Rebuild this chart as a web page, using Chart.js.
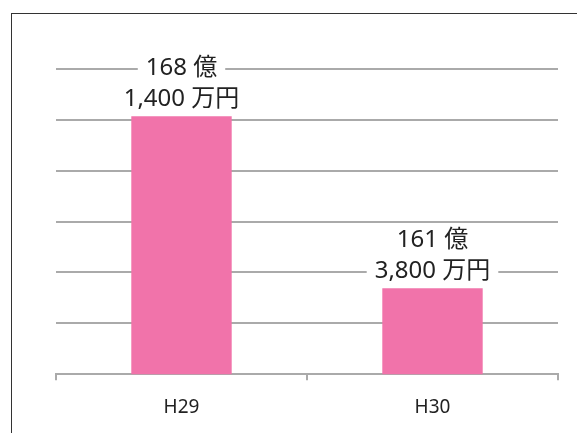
<!DOCTYPE html>
<html>
<head>
<meta charset="utf-8">
<script src="https://cdn.jsdelivr.net/npm/chart.js@4"></script>
<style>
  html, body { margin: 0; padding: 0; background: #fff; }
  #wrap { position: relative; width: 577px; height: 433px; }
  #frame { position: absolute; left: 11px; top: 13px; right: 0; bottom: 0;
           border-left: 1.5px solid #333; border-top: 1.5px solid #333; }
  canvas { position: absolute; left: 0; top: 0; }
</style>
</head>
<body>
<div id="wrap">
  <div id="frame"></div>
  <canvas id="bar-chart" width="577" height="433"></canvas>
</div>
<script>
const categories = ['H29', 'H30'];
const values = [168.14, 161.38]; // 億円
const yTicks = [158, 160, 162, 164, 166, 168, 170];

const barColor = '#f173aa';
const gridColor = '#aaaaaa';
const font = '"Noto Sans", "Noto Sans CJK JP", sans-serif';

// "168 億" / "1,400 万円"
function valueLines(v) {
    const oku = Math.floor(v);
    const man = Math.round((v - oku) * 10000);
    return [oku + ' 億', man.toLocaleString('en-US') + ' 万円'];
}

const barLabels = {
    id: 'barLabels',
    afterDatasetsDraw(chart) {
        const ctx = chart.ctx;
        const meta = chart.getDatasetMeta(0);
        ctx.save();
        ctx.font = '24px ' + font;
        ctx.textAlign = 'center';
        ctx.textBaseline = 'middle';
        meta.data.forEach((bar, i) => {
            const lines = valueLines(values[i]);
            const ys = [bar.y - 48, bar.y - 17];
            lines.forEach((txt, j) => {
                const w = ctx.measureText(txt).width;
                ctx.fillStyle = '#fff';
                ctx.fillRect(bar.x - w / 2 - 8, ys[j] - 13, w + 16, 26);
                ctx.fillStyle = '#222';
                ctx.fillText(txt, bar.x, ys[j]);
            });
        });
        ctx.restore();
    }
};

const ctx = document.getElementById('bar-chart').getContext('2d');

const myBarChart = new Chart(ctx, {
    type: 'bar',
    data: {
        labels: categories,
        datasets: [{
            data: values,
            backgroundColor: barColor,
            barPercentage: 0.4,
            categoryPercentage: 1.0
        }]
    },
    options: {
        responsive: false,
        animation: false,
        layout: {
            padding: { left: 56, right: 19, top: 69, bottom: -2 }
        },
        plugins: {
            legend: { display: false },
            tooltip: { enabled: false }
        },
        scales: {
            x: {
                grid: {
                    drawOnChartArea: false,
                    color: gridColor,
                    lineWidth: 2,
                    tickLength: 6
                },
                border: { color: gridColor, width: 2 },
                ticks: {
                    color: '#222',
                    padding: 16,
                    font: { family: font, size: 19 }
                }
            },
            y: {
                min: yTicks[0],
                max: yTicks[yTicks.length - 1],
                afterBuildTicks: (axis) => {
                    axis.ticks = yTicks.map(v => ({ value: v }));
                },
                ticks: { display: false },
                grid: { color: gridColor, lineWidth: 2, drawTicks: false },
                border: { display: false }
            }
        }
    },
    plugins: [barLabels]
});
</script>
</body>
</html>
